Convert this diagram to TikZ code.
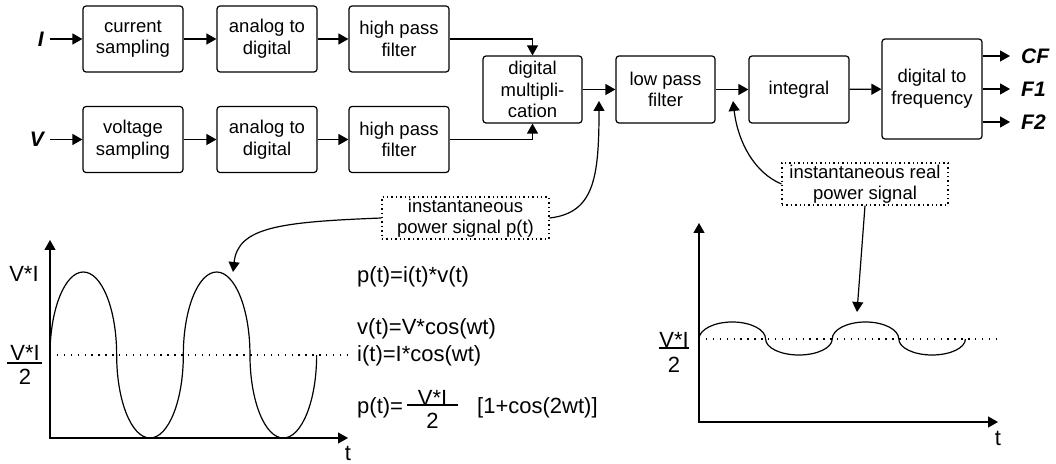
\documentclass[tikz,border=0pt]{standalone}
\usepackage{fontspec}
\setmainfont{Liberation Sans}
\usetikzlibrary{arrows.meta}
\begin{document}
\begin{tikzpicture}[x=1pt,y=1pt,
  blk/.style={draw, line width=1.2pt, rounded corners=3pt, minimum width=100pt, minimum height=66pt, align=center, inner sep=0pt, font=\fontsize{18.5}{21.7}\selectfont},
  arr/.style={line width=1.2pt, -{Triangle[length=10pt,width=11pt]}},
  axarr/.style={line width=1.2pt, {Triangle[length=10pt,width=11pt]}-{Triangle[length=10pt,width=11pt]}},
  note/.style={draw, line width=1.1pt, dash pattern=on 1.4pt off 3pt, align=center, inner sep=0pt, minimum width=167pt, minimum height=42pt, font=\fontsize{18.5}{21}\selectfont},
  io/.style={font=\fontsize{21}{24}\selectfont\bfseries\itshape, inner sep=0pt},
  eq/.style={font=\fontsize{22}{26}\selectfont, inner sep=0pt},
  mid/.style={line width=1.1pt, dash pattern=on 1.4pt off 5.5pt},
  wave/.style={line width=1.2pt},
  bar/.style={line width=1.2pt},
]
\useasboundingbox (0,0) rectangle (1056,463);

% --- block chain ---
\node[blk] (cs) at (133,424) {current\\sampling};
\node[blk] (ad1) at (267,424) {analog to\\digital};
\node[blk] (hp1) at (399,424) {high pass\\filter};
\node[blk] (vs) at (133,323.5) {voltage\\sampling};
\node[blk] (ad2) at (267,323.5) {analog to\\digital};
\node[blk] (hp2) at (399,323.5) {high pass\\filter};
\node[blk, minimum width=99pt, minimum height=67pt] (mul) at (532.5,373.5) {digital\\multipli-\\cation};
\node[blk, minimum width=99pt, minimum height=67pt] (lpf) at (665.5,373.5) {low pass\\filter};
\node[blk, minimum height=67pt] (int) at (799,373.5) {integral};
\node[blk, minimum height=100pt] (dtf) at (932,374) {digital to\\frequency};

\node[io, anchor=east] (I) at (44,424) {I};
\node[io, anchor=east] (V) at (44,323.5) {V};
\node[io, anchor=west] (CF) at (1021,407) {CF};
\node[io, anchor=west] (F1) at (1021,374) {F1};
\node[io, anchor=west] (F2) at (1021,341) {F2};

\draw[arr] ([xshift=6pt]I.east) -- (cs.west);
\draw[arr] ([xshift=6pt]V.east) -- (vs.west);
\draw[arr] (cs) -- (ad1);
\draw[arr] (ad1) -- (hp1);
\draw[arr] (vs) -- (ad2);
\draw[arr] (ad2) -- (hp2);
\draw[arr] (hp1.east) -| (mul.north);
\draw[arr] (hp2.east) -| (mul.south);
\draw[arr] (mul) -- (lpf);
\draw[arr] (lpf) -- (int);
\draw[arr] (int) -- (dtf);
\draw[arr] (dtf.east |- CF.west) -- ([xshift=-11pt]CF.west);
\draw[arr] (dtf.east |- F1.west) -- ([xshift=-11pt]F1.west);
\draw[arr] (dtf.east |- F2.west) -- ([xshift=-11pt]F2.west);

% --- notes ---
\node[note] (ip) at (465.5,245) {instantaneous\\power signal p(t)};
\node[note, minimum width=166pt] (rp) at (865,279) {instantaneous real\\power signal};

\coordinate (tipA) at (599,362);
\coordinate (tipB) at (733,362);
\coordinate (tipC) at (233,191);
\coordinate (tipD) at (857,151);

\draw[arr] (ip.east) .. controls (594,250) and (599,285) .. (tipA);
\draw[arr] (ip.west) .. controls (280,241) and (238,236) .. (tipC);
\draw[arr] (rp.west) .. controls (755,290) and (738,320) .. (tipB);
\draw[arr] (rp.south) -- (tipD);

% --- left graph ---
\coordinate (o1) at (50,25);
\coordinate (y1) at (50,223);
\coordinate (x1) at (348,25);
\draw[axarr] (y1) -- (o1) -- (x1);
\draw[mid] (50,108) -- (350,108);
\draw[wave] (50,108)
  arc[start angle=180,end angle=0,x radius=33.33,y radius=83]
  arc[start angle=180,end angle=360,x radius=33.33,y radius=83]
  arc[start angle=180,end angle=0,x radius=33.33,y radius=83]
  arc[start angle=180,end angle=360,x radius=33.33,y radius=83];
\node[eq] (t1) at (348,10) {t};
\node[eq] (vi1) at (24,189) {V*I};
\node[eq] (n1) at (25,110) {V*I};
\draw[bar] (7,100) -- (42,100);
\node[eq] (d1) at (25,86.5) {2};

% --- equations ---
\node[eq, anchor=west] (e1) at (357,186) {p(t)=i(t)*v(t)};
\node[eq, anchor=west] (e2) at (357,134) {v(t)=V*cos(wt)};
\node[eq, anchor=west] (e3) at (357,107) {i(t)=I*cos(wt)};
\node[eq, anchor=west] (e4) at (357,55) {p(t)=};
\node[eq] (n3) at (432.5,65.5) {V*I};
\draw[bar] (407,58) -- (458,58);
\node[eq] (d3) at (432.5,42.5) {2};
\node[eq, anchor=west] (e5) at (477,55) {[1+cos(2wt)]};

% --- right graph ---
\coordinate (o2) at (699,41);
\coordinate (y2) at (699,240);
\coordinate (x2) at (998,41);
\draw[axarr] (y2) -- (o2) -- (x2);
\draw[mid] (699,124) -- (997,124);
\draw[wave] (699,124)
  arc[start angle=180,end angle=0,x radius=33.3,y radius=17]
  arc[start angle=180,end angle=360,x radius=33.3,y radius=16]
  arc[start angle=180,end angle=0,x radius=33.3,y radius=17]
  arc[start angle=180,end angle=360,x radius=33.3,y radius=16];
\node[eq] (t2) at (998,25) {t};
\node[eq] (n2) at (674,123.5) {V*I};
\draw[bar] (659,115) -- (689,115);
\node[eq] (d2) at (674,98.5) {2};
\end{tikzpicture}
\end{document}
